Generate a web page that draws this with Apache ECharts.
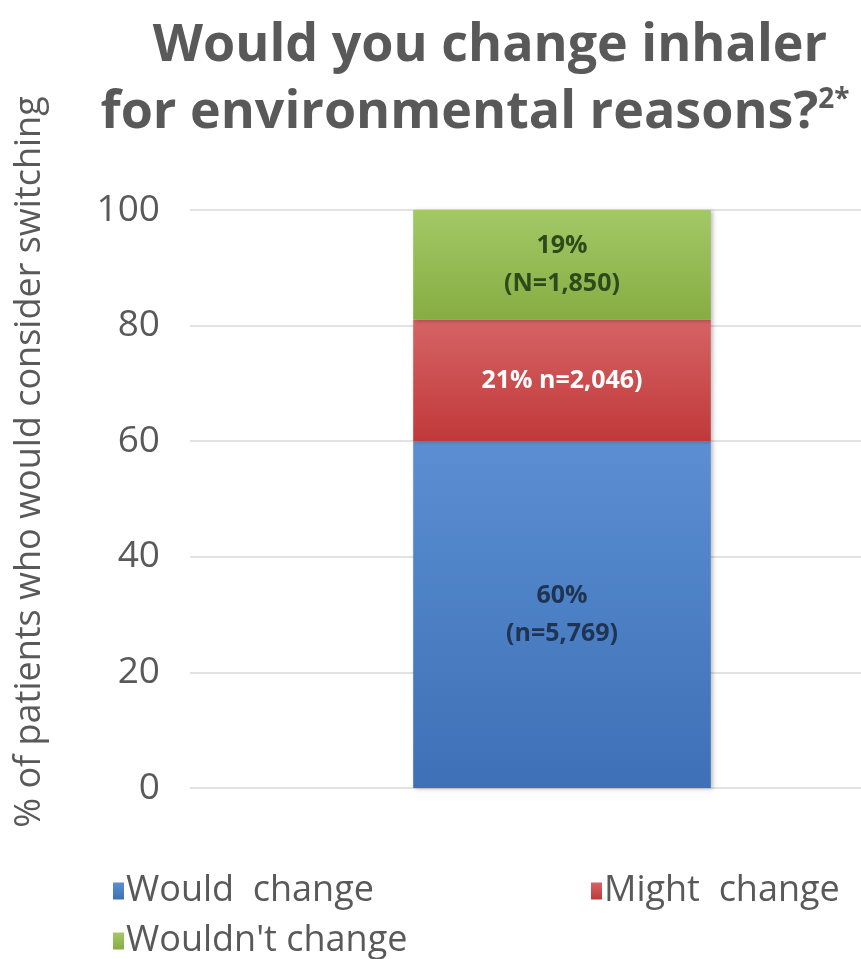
<!DOCTYPE html>
<html>
<head>
<meta charset="utf-8">
<script src="https://cdn.jsdelivr.net/npm/echarts@6/dist/echarts.min.js"></script>
<style>
  html, body { margin: 0; padding: 0; background: #fff; }
  #main { width: 861px; height: 959px; }
</style>
</head>
<body>
<div id="main"></div>
<script>
// data
const categories = ['All respondents'];
const wouldChange = [60];
const mightChange = [21];
const wouldntChange = [19];
const wouldLabel = ['60%\n(n=5,769)'];
const mightLabel = ['21% n=2,046)'];
const wouldntLabel = ['19%\n(N=1,850)'];
const yTicks = [0, 20, 40, 60, 80, 100];
const legendText = {
  'Would change': 'Would  change',
  'Might change': 'Might  change',
  "Wouldn't change": "Wouldn't change"
};

const font = 'Open Sans';
const grey = '#595959';

function grad(top, bottom) {
  return new echarts.graphic.LinearGradient(0, 0, 0, 1, [
    { offset: 0, color: top },
    { offset: 1, color: bottom }
  ]);
}

function seg(name, data, labels, top, bottom, labelColor) {
  return {
    name: name,
    type: 'bar',
    stack: 'total',
    data: data,
    barWidth: '40%',
    itemStyle: {
      color: grad(top, bottom),
      shadowColor: 'rgba(0,0,0,0.25)',
      shadowBlur: 4,
      shadowOffsetX: 2,
      shadowOffsetY: 1
    },
    label: {
      show: true,
      position: 'inside',
      formatter: (p) => labels[p.dataIndex],
      color: labelColor,
      fontFamily: font,
      fontWeight: 'bold',
      fontSize: 25,
      lineHeight: 38
    }
  };
}

function legendAt(name, left, top) {
  return {
    data: [name], left: left, top: top,
    itemWidth: 11, itemHeight: 17, itemGap: 4,
    icon: 'rect',
    formatter: (n) => legendText[n],
    textStyle: { fontFamily: font, fontSize: 36, color: grey, padding: [0, 0, 0, -3] }
  };
}

let options = {
  animation: false,
  title: [
    {
      text: 'Would you change inhaler',
      left: 485, top: 15, textAlign: 'center',
      textStyle: { fontFamily: font, fontWeight: 'bold', fontSize: 52, color: grey }
    },
    {
      text: 'for environmental reasons?{sup|2*}',
      left: 470, top: 81, textAlign: 'center',
      textStyle: {
        fontFamily: font, fontWeight: 'bold', fontSize: 52, color: grey,
        rich: { sup: { fontFamily: font, fontWeight: 'bold', fontSize: 28, color: grey, verticalAlign: 'top', padding: [0, 0, 26, 0] } }
      }
    }
  ],
  legend: [
    legendAt('Would change', 108, 868),
    legendAt('Might change', 586, 868),
    legendAt("Wouldn't change", 108, 918)
  ],
  grid: { left: 190, width: 744, top: 210, bottom: 171, outerBoundsMode: 'none' },
  xAxis: {
    type: 'category',
    data: categories,
    axisLine: { show: false },
    axisTick: { show: false },
    axisLabel: { show: false }
  },
  yAxis: {
    type: 'value',
    min: yTicks[0],
    max: yTicks[yTicks.length - 1],
    interval: 20,
    name: '% of patients who would consider switching',
    nameLocation: 'middle',
    nameRotate: 90,
    nameGap: 142,
    nameTextStyle: { fontFamily: font, fontSize: 36, color: grey, padding: [0, 0, 0, 74] },
    axisLine: { show: false },
    axisTick: { show: false },
    axisLabel: { fontFamily: font, fontSize: 37, color: grey, margin: 30 },
    splitLine: { lineStyle: { color: '#d9d9d9', width: 1.5 } }
  },
  series: [
    seg('Would change', wouldChange, wouldLabel, '#5b8fd2', '#3d70b6', '#1f3352'),
    seg('Might change', mightChange, mightLabel, '#d66364', '#c0393a', '#ffffff'),
    seg("Wouldn't change", wouldntChange, wouldntLabel, '#a3c866', '#86ad43', '#2e4a1b')
  ]
};

let myChart = echarts.init(document.getElementById('main'));
myChart.setOption(options);
</script>
</body>
</html>
